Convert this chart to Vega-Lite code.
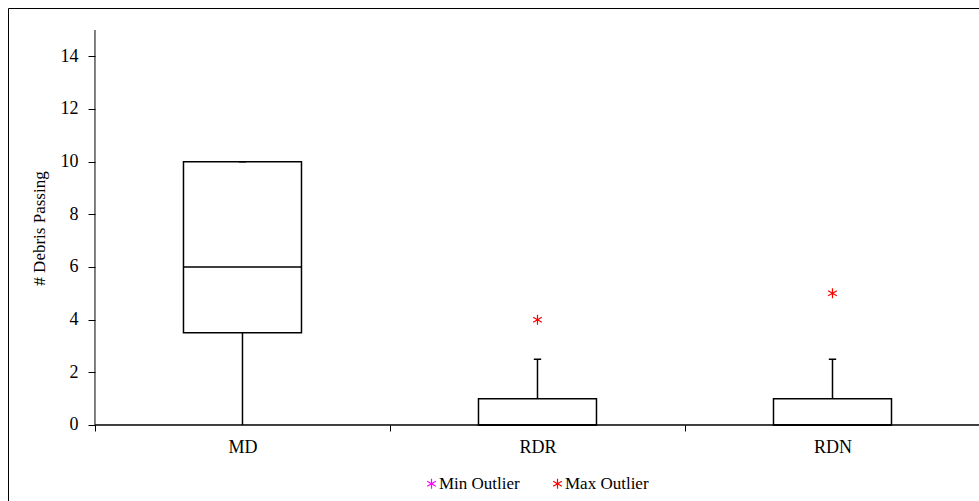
{
  "$schema": "https://vega.github.io/schema/vega-lite/v6.json",
  "width": 976,
  "height": 498,
  "autosize": {"type": "none"},
  "padding": {"left": 8, "top": 8, "right": -5, "bottom": -5},
  "background": "white",
  "config": {
    "view": {"stroke": "#000", "strokeWidth": 1},
    "font": "Liberation Serif",
    "axis": {"grid": false, "domain": false, "labelFont": "Liberation Serif", "titleFont": "Liberation Serif", "labelColor": "#000", "titleColor": "#000", "tickColor": "#000", "titleFontWeight": "normal"},
    "legend": {"labelFont": "Liberation Serif", "labelColor": "#000"}
  },
  "datasets": {
    "boxes": [
      {"group": "MD", "lower": 0, "q1": 3.5, "median": 6, "q3": 10, "upper": 10},
      {"group": "RDR", "lower": 0, "q1": 0, "median": 0, "q3": 1, "upper": 2.5},
      {"group": "RDN", "lower": 0, "q1": 0, "median": 0, "q3": 1, "upper": 2.5}
    ],
    "outliers": [
      {"group": "RDR", "value": 4, "type": "Max Outlier"},
      {"group": "RDN", "value": 5, "type": "Max Outlier"}
    ]
  },
  "data": {"name": "boxes"},
  "encoding": {
    "x": {
      "field": "group", "type": "nominal", "sort": ["MD", "RDR", "RDN"],
      "scale": {"domain": ["MD", "RDR", "RDN"], "paddingInner": 0, "paddingOuter": 0.1542, "align": 0.956},
      "axis": {"title": null, "labelAngle": 0, "tickBand": "extent", "tickSize": 6, "labelPadding": 7, "labelFontSize": 18, "offset": -81, "domain": false}
    }
  },
  "layer": [
    {
      "mark": {"type": "bar", "width": {"band": 0.4}, "fill": "white", "stroke": "#000", "strokeWidth": 1.5},
      "encoding": {
        "y": {
          "field": "q1", "type": "quantitative",
          "scale": {"domain": [-3.076, 15.835], "nice": false, "zero": false},
          "axis": {"orient": "left", "title": "# Debris Passing", "values": [0, 2, 4, 6, 8, 10, 12, 14], "offset": -87, "tickSize": 7, "labelPadding": 10, "labelFontSize": 18, "titleFontSize": 17, "titleX": -47, "titleY": 220}
        },
        "y2": {"field": "q3"}
      }
    },
    {
      "mark": {"type": "rect", "fill": null, "stroke": "#000", "strokeWidth": 1},
      "encoding": {"y": {"datum": 0, "type": "quantitative"}, "y2": {"datum": 0}}
    },
    {
      "data": {"values": [{}]},
      "mark": {"type": "rule", "color": "#000", "strokeWidth": 1},
      "encoding": {
        "x": {"datum": "MD", "type": "nominal", "bandPosition": 0},
        "y": {"datum": 0, "type": "quantitative"},
        "y2": {"datum": 15}
      }
    },
    {
      "mark": {"type": "bar", "width": {"band": 0.4}, "fill": null, "stroke": "#000", "strokeWidth": 1.5},
      "encoding": {
        "y": {"field": "median", "type": "quantitative"},
        "y2": {"field": "median"}
      }
    },
    {
      "mark": {"type": "rule", "color": "#000", "strokeWidth": 1.5},
      "encoding": {
        "y": {"field": "q3", "type": "quantitative"},
        "y2": {"field": "upper"}
      }
    },
    {
      "mark": {"type": "rule", "color": "#000", "strokeWidth": 1.5},
      "encoding": {
        "y": {"field": "lower", "type": "quantitative"},
        "y2": {"field": "q1"}
      }
    },
    {
      "mark": {"type": "bar", "width": {"band": 0.025}, "fill": null, "stroke": "#000", "strokeWidth": 1.5},
      "encoding": {
        "y": {"field": "upper", "type": "quantitative"},
        "y2": {"field": "upper"}
      }
    },
    {
      "data": {"name": "outliers"},
      "mark": {"type": "point", "filled": false, "size": 100, "strokeWidth": 1.2, "opacity": 1, "shape": "M0,-1L0,1M-0.866,-0.5L0.866,0.5M-0.866,0.5L0.866,-0.5"},
      "encoding": {
        "y": {"field": "value", "type": "quantitative"},
        "color": {
          "field": "type", "type": "nominal",
          "scale": {"domain": ["Min Outlier", "Max Outlier"], "range": ["#FF00FF", "#FF0000"]},
          "legend": {"title": null, "orient": "none", "legendX": 415, "legendY": 467, "direction": "horizontal", "symbolType": "M0,-1L0,1M-0.866,-0.5L0.866,0.5M-0.866,0.5L0.866,-0.5", "symbolSize": 100, "symbolStrokeWidth": 1.2, "labelFontSize": 17, "labelOffset": -1, "columnPadding": 29}
        }
      }
    }
  ]
}
